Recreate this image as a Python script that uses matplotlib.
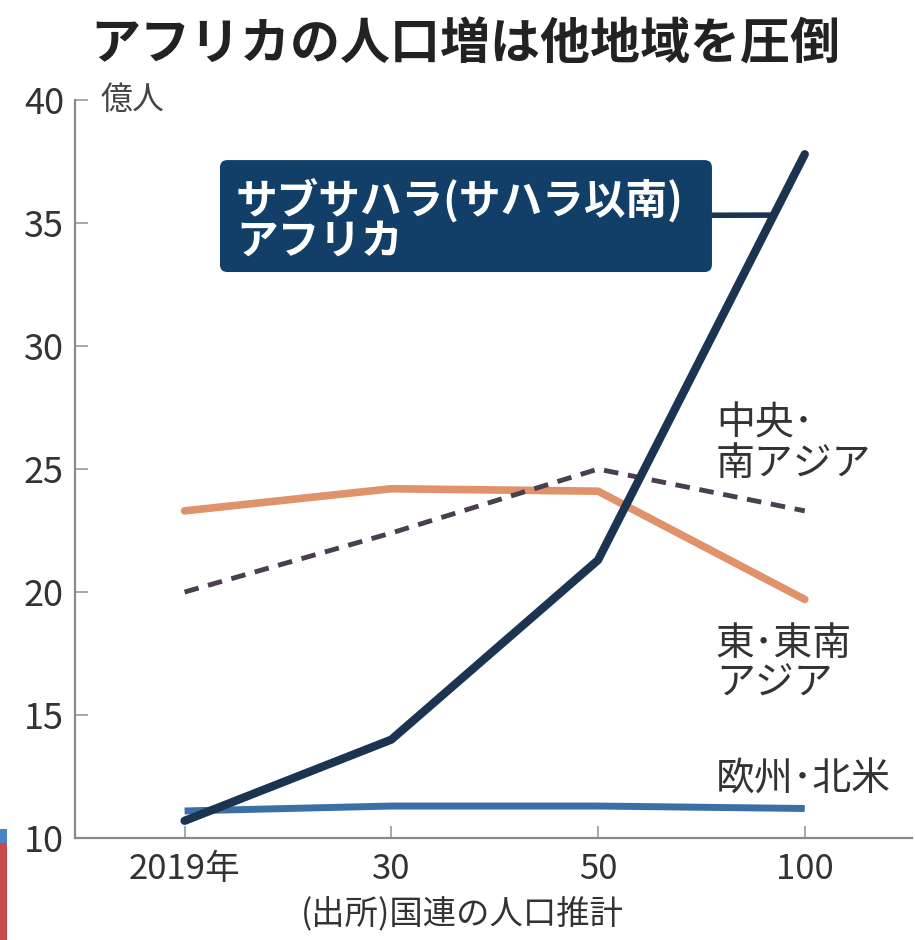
import matplotlib.pyplot as plt
from matplotlib.patches import FancyBboxPatch, Rectangle

plt.rcParams['font.family'] = ['Noto Sans CJK JP', 'DejaVu Sans']

# 地域別の人口推計 (億人)
years = ['2019年', '30', '50', '100']
sub_saharan = [10.7, 14.0, 21.3, 37.8]
central_south_asia = [20.0, 22.4, 25.0, 23.3]
east_se_asia = [23.3, 24.2, 24.1, 19.7]
europe_na = [11.1, 11.3, 11.3, 11.2]

x = list(range(len(years)))

fig = plt.figure(figsize=(9.15, 9.40), dpi=100)
ax = fig.add_axes([0.082, 0.1085, 0.915, 0.785])

ax.plot(x, east_se_asia, color='#e0926a', lw=5.5, solid_capstyle='round', zorder=2)
ax.plot(x, central_south_asia, color='#4a3f4f', lw=3.5, ls=(0, (3, 2)), zorder=3)
ax.plot(x, europe_na, color='#3c6fa6', lw=5, solid_capstyle='butt', zorder=3)
ax.plot(x, sub_saharan, color='#1b3452', lw=6, solid_capstyle='round',
        solid_joinstyle='round', zorder=4)

ax.set_xlim(-0.53, 3.52)
ax.set_ylim(10, 40)
ax.set_yticks([10, 15, 20, 25, 30, 35, 40])
ax.set_xticks(x)
ax.set_xticklabels(years)

for side in ['top', 'right']:
    ax.spines[side].set_visible(False)
for side in ['left', 'bottom']:
    ax.spines[side].set_color('#8a8a8a')
    ax.spines[side].set_linewidth(1.6)

ax.tick_params(axis='y', direction='in', length=9, width=1.2, color='#9a9a9a',
               labelsize=26, pad=8, labelcolor='#333333')
ax.tick_params(axis='x', direction='in', length=9, width=1.2, color='#9a9a9a',
               labelsize=25, pad=10, labelcolor='#333333')

# 単位
ax.text(0.03, 40, '億人', fontsize=23, color='#444444', va='center', ha='left',
        transform=ax.get_yaxis_transform())

# 系列ラベル
ax.text(2.57, 24.4, '中央･\n南アジア', fontsize=28, color='#333333',
        va='bottom', ha='left', linespacing=1.0)
ax.text(2.57, 17.07, '東･東南\nアジア', fontsize=28, color='#333333',
        va='center', ha='left', linespacing=1.0)
ax.text(2.57, 12.37, '欧州･北米', fontsize=28, color='#333333',
        va='center', ha='left')

# サブサハラの吹き出し
box = FancyBboxPatch((0.2404, 0.7106), 0.5377, 0.1191,
                     boxstyle='round,pad=0,rounding_size=0.008',
                     transform=fig.transFigure, facecolor='#123f67',
                     edgecolor='none', zorder=5)
fig.patches.append(box)
fig.text(0.258, 0.7106 + 0.1191 * 0.64, 'サブサハラ(サハラ以南)', color='white',
         fontsize=30, fontweight='bold', va='center', ha='left', zorder=6)
fig.text(0.258, 0.7106 + 0.1191 * 0.27, 'アフリカ', color='white',
         fontsize=30, fontweight='bold', va='center', ha='left', zorder=6)

t = 0.85
tx = x[2] + t * (x[3] - x[2])
ty = sub_saharan[2] + t * (sub_saharan[3] - sub_saharan[2])
ax.annotate('', xy=(tx, ty), xycoords='data',
            xytext=(0.778, 0.771), textcoords='figure fraction',
            arrowprops=dict(arrowstyle='-', color='#1b3452', lw=4,
                            shrinkA=0, shrinkB=0))

fig.text(0.508, 0.952, 'アフリカの人口増は他地域を圧倒', fontsize=36,
         fontweight='bold', ha='center', va='center', color='#222222')
fig.text(0.505, 0.027, '(出所)国連の人口推計', fontsize=24, ha='center',
         va='center', color='#333333')

# 左下の色帯
fig.patches.append(Rectangle((0, 0), 0.0077, 0.1032, transform=fig.transFigure,
                             facecolor='#c84a4a', edgecolor='none'))
fig.patches.append(Rectangle((0, 0.1032), 0.0077, 0.0149, transform=fig.transFigure,
                             facecolor='#4a82c4', edgecolor='none'))

fig.savefig('out.png', dpi=100)
